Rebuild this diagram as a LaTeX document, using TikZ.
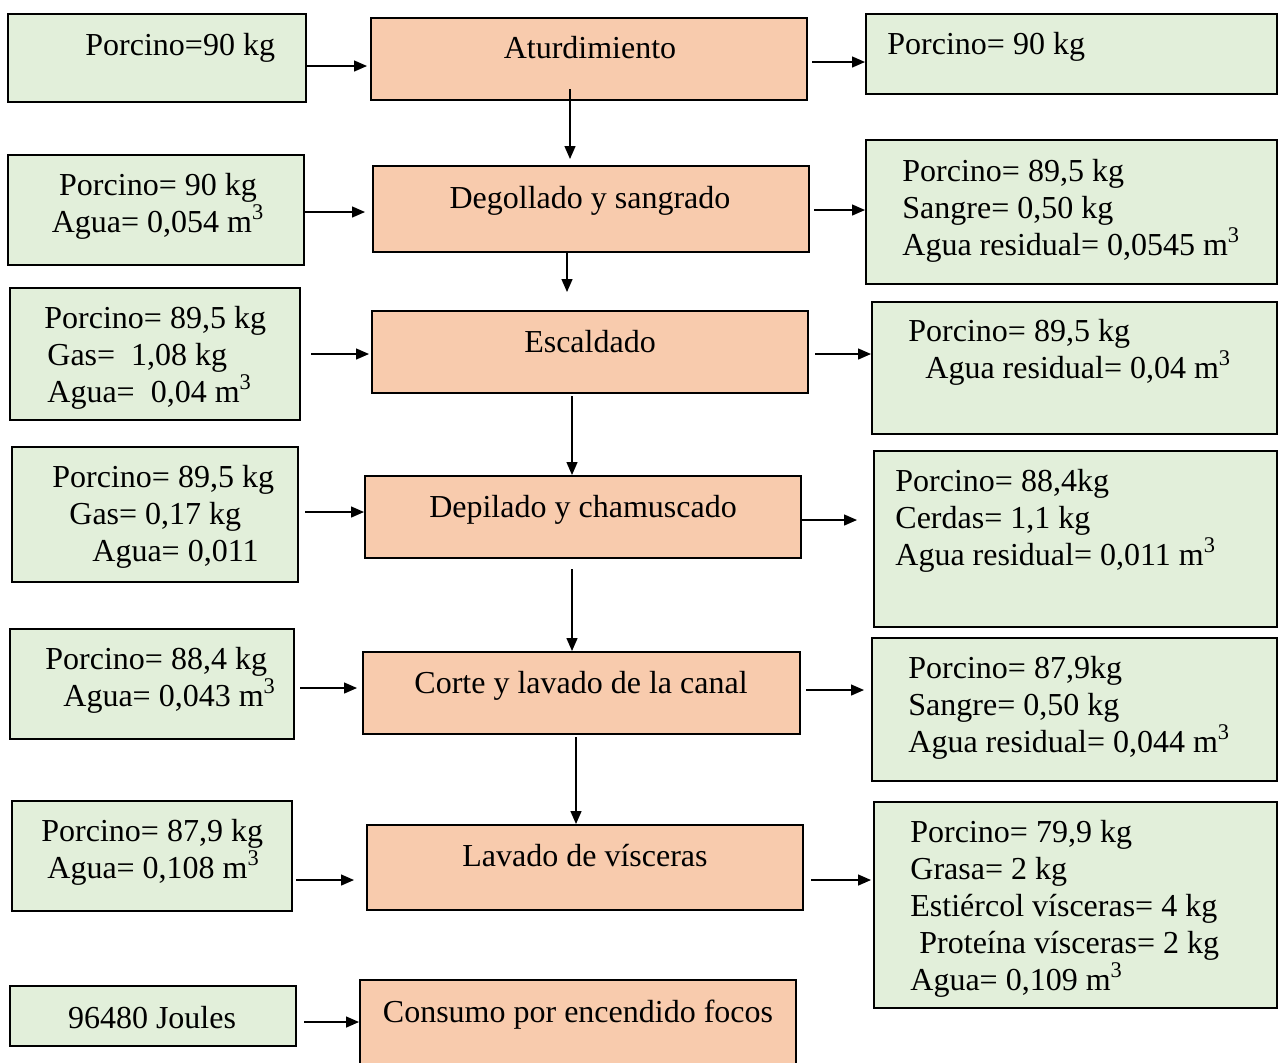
\documentclass[tikz,border=0pt]{standalone}
\usepackage{fontspec}
\setmainfont{Liberation Serif}
\usetikzlibrary{arrows.meta,fit}
\definecolor{verde}{HTML}{E2EFDA}
\definecolor{salmon}{HTML}{F8CBAD}

\begin{document}
\begin{tikzpicture}[x=0.5pt,y=-0.5pt,>={Triangle[length=6.5pt,width=5.5pt]},
  font=\fontsize{16}{18.5}\selectfont,
  dato/.style={draw,line width=1pt,fill=verde,inner sep=0pt},
  proceso/.style={draw,line width=1pt,fill=salmon,inner sep=0pt},
  txt/.style={anchor=base west,align=left,inner sep=0pt},
  ctxt/.style={anchor=base,align=center,inner sep=0pt},
  flecha/.style={->,line width=0.7pt}]
  \clip (0,0) rectangle (1278,1062);

  % entradas
  \node[dato,fit={(8,14) (306,102)}] (L1) {};
  \node[dato,fit={(8,155) (304,265)}] (L2) {};
  \node[dato,fit={(10,288) (300,420)}] (L3) {};
  \node[dato,fit={(12,447) (298,582)}] (L4) {};
  \node[dato,fit={(10,629) (294,739)}] (L5) {};
  \node[dato,fit={(12,801) (292,911)}] (L6) {};
  \node[dato,fit={(10,986) (296,1046)}] (L7) {};

  % procesos
  \node[proceso,fit={(371,18) (807,100)}] (M1) {};
  \node[proceso,fit={(373,166) (809,252)}] (M2) {};
  \node[proceso,fit={(372,311) (808,393)}] (M3) {};
  \node[proceso,fit={(365,476) (801,558)}] (M4) {};
  \node[proceso,fit={(363,652) (800,734)}] (M5) {};
  \node[proceso,fit={(367,825) (803,910)}] (M6) {};
  \node[proceso,fit={(360,980) (796,1080)}] (M7) {};

  % salidas
  \node[dato,fit={(866,14) (1277,94)}] (R1) {};
  \node[dato,fit={(866,140) (1277,284)}] (R2) {};
  \node[dato,fit={(872,302) (1277,434)}] (R3) {};
  \node[dato,fit={(874,451) (1277,627)}] (R4) {};
  \node[dato,fit={(872,638) (1277,781)}] (R5) {};
  \node[dato,fit={(874,802) (1277,1008)}] (R6) {};

  % textos (base = ultima linea)
  \node[txt] (tL1) at (85,55) {Porcino=90 kg};
  \node[ctxt] (tL2) at (158,232) {Porcino= 90 kg\\ Agua= 0,054 m\textsuperscript{3}};
  \node[txt] (tL3) at (44,402) {Porcino= 89,5 kg\\ \hspace*{1.5pt}Gas=\ \ 1,08 kg\\ \hspace*{1.5pt}Agua=\ \ 0,04 m\textsuperscript{3}};
  \node[txt] (tL4) at (52,561) {Porcino= 89,5 kg\\ \hspace*{8.5pt}Gas= 0,17 kg\\ \hspace*{20pt}Agua= 0,011};
  \node[txt] (tL5) at (45,706) {Porcino= 88,4 kg\\ \hspace*{9pt}Agua= 0,043 m\textsuperscript{3}};
  \node[txt] (tL6) at (41,878) {Porcino= 87,9 kg\\ \hspace*{3pt}Agua= 0,108 m\textsuperscript{3}};
  \node[ctxt] (tL7) at (152,1028) {96480 Joules};

  \node[ctxt] (tM1) at (590,58) {Aturdimiento};
  \node[ctxt] (tM2) at (590,208) {Degollado y sangrado};
  \node[ctxt] (tM3) at (590,352) {Escaldado};
  \node[ctxt] (tM4) at (583,517) {Depilado y chamuscado};
  \node[ctxt] (tM5) at (581,693) {Corte y lavado de la canal};
  \node[ctxt] (tM6) at (585,866) {Lavado de vísceras};
  \node[ctxt] (tM7) at (578,1022) {Consumo por encendido focos};

  \node[txt] (tR1) at (887,54) {Porcino= 90 kg};
  \node[txt] (tR2) at (902,255) {Porcino= 89,5 kg\\ Sangre= 0,50 kg\\ Agua residual= 0,0545 m\textsuperscript{3}};
  \node[txt] (tR3) at (908,378) {Porcino= 89,5 kg\\ \hspace*{8.5pt}Agua residual= 0,04 m\textsuperscript{3}};
  \node[txt] (tR4) at (895,565) {Porcino= 88,4kg\\ Cerdas= 1,1 kg\\ Agua residual= 0,011 m\textsuperscript{3}};
  \node[txt] (tR5) at (908,752) {Porcino= 87,9kg\\ Sangre= 0,50 kg\\ Agua residual= 0,044 m\textsuperscript{3}};
  \node[txt] (tR6) at (910,990) {Porcino= 79,9 kg\\ Grasa= 2 kg\\ Estiércol vísceras= 4 kg\\ \hspace*{4.5pt}Proteína vísceras= 2 kg\\ Agua= 0,109 m\textsuperscript{3}};

  % flechas horizontales
  \draw[flecha,shorten >=1.5pt] (L1.east |- 0,66) -- (M1.west |- 0,66);
  \draw[flecha,shorten <=2pt] (M1.east |- 0,62) -- (R1.west |- 0,62);
  \draw[flecha,shorten >=3.5pt] (L2.east |- 0,212) -- (M2.west |- 0,212);
  \draw[flecha,shorten <=2pt] (M2.east |- 0,210) -- (R2.west |- 0,210);
  \draw[flecha,shorten <=5pt,shorten >=1pt] (L3.east |- 0,354) -- (M3.west |- 0,354);
  \draw[flecha,shorten <=3pt] (M3.east |- 0,354) -- (R3.west |- 0,354);
  \draw[flecha,shorten <=3pt] (L4.east |- 0,512) -- (M4.west |- 0,512);
  \draw[flecha,shorten >=8pt] (M4.east |- 0,520) -- (R4.west |- 0,520);
  \draw[flecha,shorten <=2.5pt,shorten >=2.5pt] (L5.east |- 0,688) -- (M5.west |- 0,688);
  \draw[flecha,shorten <=2.5pt,shorten >=3.5pt] (M5.east |- 0,690) -- (R5.west |- 0,690);
  \draw[flecha,shorten <=1.5pt,shorten >=6pt] (L6.east |- 0,880) -- (M6.west |- 0,880);
  \draw[flecha,shorten <=3.5pt,shorten >=1pt] (M6.east |- 0,880) -- (R6.west |- 0,880);
  \draw[flecha,shorten <=3.5pt] (L7.east |- 0,1022) -- (M7.west |- 0,1022);

  % flechas verticales
  \draw[flecha,shorten <=-6pt,shorten >=3pt] (M1.south -| 570,0) -- (M2.north -| 570,0);
  \draw[flecha,shorten <=-1pt,shorten >=9pt] (M2.south -| 567,0) -- (M3.north -| 567,0);
  \draw[flecha,shorten <=1pt] (M3.south -| 572,0) -- (M4.north -| 572,0);
  \draw[flecha,shorten <=5pt] (M4.south -| 572,0) -- (M5.north -| 572,0);
  \draw[flecha,shorten <=1pt] (M5.south -| 576,0) -- (M6.north -| 576,0);
\end{tikzpicture}
\end{document}
